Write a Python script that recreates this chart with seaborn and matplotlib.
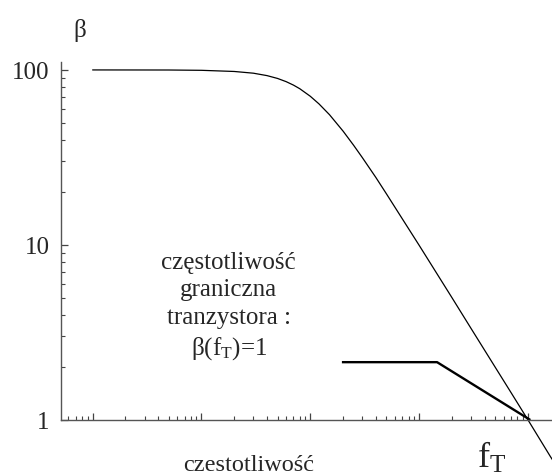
import matplotlib
matplotlib.use("Agg")
import matplotlib.pyplot as plt
import matplotlib.ticker as mticker
import pandas as pd
import seaborn as sns

# beta(f) (log-log)
freq = [1, 5, 10, 20, 30, 40, 50, 60, 70, 80, 100, 120, 150, 200, 250, 300,
        400, 500, 700, 1000, 2000, 3000, 5000, 7000, 10000, 16000, 20000]
beta = [100, 99.9, 99.5, 98, 95.8, 92.8, 89.4, 85.7, 81.9, 78.1, 70.7, 64.0,
        55.5, 44.7, 37.1, 31.6, 24.3, 19.6, 14.1, 9.95, 5.0, 3.33, 2.0, 1.43,
        1.0, 0.62, 0.5]

# thick marker line pointing at f_T
mark_f = [195, 1460, 10500]
mark_b = [2.14, 2.14, 1.0]

yticks = [1, 10, 100]
ytick_labels = ["1", "10", "100"]

sns.set_style("ticks")
plt.rcParams["font.family"] = ["Liberation Serif", "DejaVu Serif"]
plt.rcParams["mathtext.fontset"] = "custom"
plt.rcParams["mathtext.rm"] = "Liberation Serif"
plt.rcParams["mathtext.it"] = "Liberation Serif:italic"

fig = plt.figure(figsize=(5.52, 4.77), dpi=100)
ax = fig.add_axes([60.5 / 552, 56 / 477, 1 - 60.5 / 552, (421 - 63) / 477])

df = pd.DataFrame({"f": freq, "beta": beta})
sns.lineplot(data=df, x="f", y="beta", ax=ax, color="black", lw=0.9,
             clip_on=False, estimator=None, sort=False)
ax.plot(mark_f, mark_b, color="black", lw=1.7, clip_on=False,
        solid_capstyle="butt")

ax.set_xscale("log")
ax.set_yscale("log")
ax.set_xlim(0.507, 16600)
ax.set_ylim(1, 111)

sns.despine(ax=ax)
for s in ("left", "bottom"):
    ax.spines[s].set_color("#555555")
    ax.spines[s].set_linewidth(1.0)

ax.set_yticks(yticks)
ax.set_yticklabels(ytick_labels, fontsize=18)
ax.yaxis.set_minor_formatter(mticker.NullFormatter())
ax.xaxis.set_major_formatter(mticker.NullFormatter())
ax.xaxis.set_minor_formatter(mticker.NullFormatter())
ax.xaxis.set_major_locator(mticker.LogLocator(base=10, numticks=20))
ax.xaxis.set_minor_locator(mticker.LogLocator(base=10, subs=range(2, 10), numticks=20))
ax.tick_params(which="major", direction="in", length=5, width=0.9,
               color="#444444", pad=8)
ax.tick_params(which="minor", direction="in", length=2.6, width=0.8,
               color="#444444")
ax.set_xlabel("")
ax.set_ylabel("")

ax.text(17.8, 4.5, "częstotliwość\ngraniczna\ntranzystora :\nβ(f$_\\mathrm{T}$)=1",
        ha="center", va="center", fontsize=18, linespacing=1.32)

fig.text(80 / 552, 1 - 30 / 477, "β", ha="center", va="center", fontsize=18)
fig.text(249 / 552, 1 - 471 / 477, "czestotliwość", ha="center",
         va="baseline", fontsize=17.5)
fig.text(477 / 552, 1 - 468 / 477, "f$_\\mathrm{T}$", ha="left",
         va="baseline", fontsize=26)

fig.savefig("out.png", dpi=100)
